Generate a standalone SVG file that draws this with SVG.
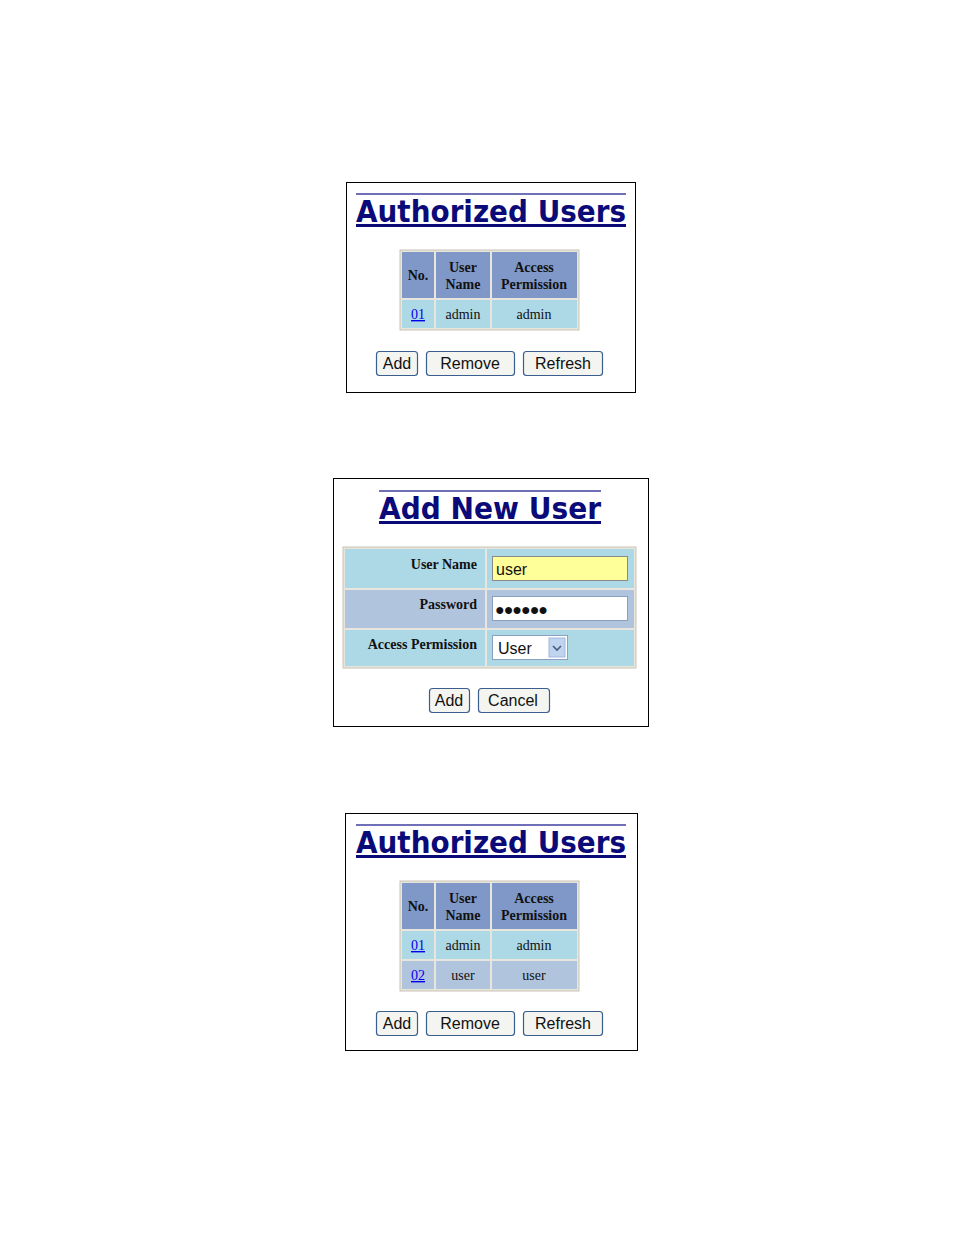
<svg xmlns="http://www.w3.org/2000/svg" width="954" height="1235" viewBox="0 0 954 1235">
<style>
.panel{fill:#fff;stroke:#000;stroke-width:1}
.tl{stroke:#4040a0;stroke-width:1.5}
.title{font-family:"DejaVu Sans",Verdana,sans-serif;font-weight:bold;font-size:30px;fill:#0a0a78;text-decoration:underline}
.tbl{fill:#e8e6dc;stroke:#c8c4b4}
.hd{fill:#7f98c8}
.r1{fill:#add8e6}
.r2{fill:#b0c4de}
.th{font-family:"Liberation Serif",serif;font-weight:bold;font-size:14px;fill:#111;text-anchor:middle}
.td{font-family:"Liberation Serif",serif;font-size:14px;fill:#111;text-anchor:middle}
.lnk{font-family:"Liberation Serif",serif;font-size:14px;fill:#0000ee;text-anchor:middle;text-decoration:underline}
.lb{font-family:"Liberation Serif",serif;font-weight:bold;font-size:14px;fill:#111;text-anchor:end}
.btn{fill:#f4f4f0;stroke:#3a5f8f;stroke-width:1.2}
.bt{font-family:"Liberation Sans",Arial,sans-serif;font-size:16px;fill:#111;text-anchor:middle}
.in{font-family:"Liberation Sans",Arial,sans-serif;font-size:16px;fill:#111}
</style>
<g id="panel1">
<rect class="panel" x="346.5" y="182.5" width="289" height="210"/>
<line class="tl" x1="356" y1="194" x2="626" y2="194"/>
<text class="title" x="356" y="222" textLength="270" lengthAdjust="spacingAndGlyphs">Authorized Users</text>
<rect class="tbl" x="400" y="250" width="179" height="80"/>
<rect class="hd" x="402" y="252" width="32" height="46"/>
<rect class="hd" x="436" y="252" width="54" height="46"/>
<rect class="hd" x="492" y="252" width="85" height="46"/>
<rect class="r1" x="402" y="300" width="32" height="28"/>
<rect class="r1" x="436" y="300" width="54" height="28"/>
<rect class="r1" x="492" y="300" width="85" height="28"/>
<text class="th" x="418" y="280">No.</text>
<text class="th" x="463" y="272">User</text><text class="th" x="463" y="289">Name</text>
<text class="th" x="534" y="272">Access</text><text class="th" x="534" y="289">Permission</text>
<text class="lnk" x="418" y="319">01</text>
<text class="td" x="463" y="319">admin</text>
<text class="td" x="534" y="319">admin</text>
<rect class="btn" x="376.5" y="351.5" width="41" height="24" rx="3"/><text class="bt" x="397" y="369">Add</text>
<rect class="btn" x="426.5" y="351.5" width="88" height="24" rx="3"/><text class="bt" x="470" y="369">Remove</text>
<rect class="btn" x="523.5" y="351.5" width="79" height="24" rx="3"/><text class="bt" x="563" y="369">Refresh</text>
</g>
<g id="panel2">
<rect class="panel" x="333.5" y="478.5" width="315" height="248"/>
<line class="tl" x1="379" y1="491" x2="601" y2="491"/>
<text class="title" x="379" y="519" textLength="222" lengthAdjust="spacingAndGlyphs">Add New User</text>
<rect class="tbl" x="343" y="547" width="293" height="121"/>
<rect class="r1" x="345" y="549" width="140" height="39"/>
<rect class="r1" x="487" y="549" width="147" height="39"/>
<rect class="r2" x="345" y="590" width="140" height="38"/>
<rect class="r2" x="487" y="590" width="147" height="38"/>
<rect class="r1" x="345" y="630" width="140" height="36"/>
<rect class="r1" x="487" y="630" width="147" height="36"/>
<text class="lb" x="477" y="569">User Name</text>
<text class="lb" x="477" y="609">Password</text>
<text class="lb" x="477" y="649">Access Permission</text>
<rect x="492.5" y="556.5" width="135" height="24" fill="#ffff99" stroke="#8a8a8a"/>
<text class="in" x="496" y="575">user</text>
<rect x="492.5" y="596.5" width="135" height="24" fill="#fff" stroke="#8aa0c0"/>
<text class="in" x="495" y="615" font-size="18" letter-spacing="-1">●●●●●●</text>
<rect x="492.5" y="635.5" width="75" height="24" fill="#fff" stroke="#8aa0c0"/>
<text class="in" x="498" y="654">User</text>
<rect x="549" y="638" width="16" height="19" fill="#c0d4f0" stroke="#a0b8e0"/>
<path d="M553 646 L557 650 L561 646" fill="none" stroke="#4a5a80" stroke-width="1.6"/>
<rect class="btn" x="429.5" y="688.5" width="40" height="24" rx="3"/><text class="bt" x="449" y="706">Add</text>
<rect class="btn" x="478.5" y="688.5" width="71" height="24" rx="3"/><text class="bt" x="513" y="706">Cancel</text>
</g>
<g id="panel3">
<rect class="panel" x="345.5" y="813.5" width="292" height="237"/>
<line class="tl" x1="356" y1="825" x2="626" y2="825"/>
<text class="title" x="356" y="853" textLength="270" lengthAdjust="spacingAndGlyphs">Authorized Users</text>
<rect class="tbl" x="400" y="881" width="179" height="110"/>
<rect class="hd" x="402" y="883" width="32" height="46"/>
<rect class="hd" x="436" y="883" width="54" height="46"/>
<rect class="hd" x="492" y="883" width="85" height="46"/>
<rect class="r1" x="402" y="931" width="32" height="28"/>
<rect class="r1" x="436" y="931" width="54" height="28"/>
<rect class="r1" x="492" y="931" width="85" height="28"/>
<rect class="r2" x="402" y="961" width="32" height="28"/>
<rect class="r2" x="436" y="961" width="54" height="28"/>
<rect class="r2" x="492" y="961" width="85" height="28"/>
<text class="th" x="418" y="911">No.</text>
<text class="th" x="463" y="903">User</text><text class="th" x="463" y="920">Name</text>
<text class="th" x="534" y="903">Access</text><text class="th" x="534" y="920">Permission</text>
<text class="lnk" x="418" y="950">01</text>
<text class="td" x="463" y="950">admin</text>
<text class="td" x="534" y="950">admin</text>
<text class="lnk" x="418" y="980">02</text>
<text class="td" x="463" y="980">user</text>
<text class="td" x="534" y="980">user</text>
<rect class="btn" x="376.5" y="1011.5" width="41" height="24" rx="3"/><text class="bt" x="397" y="1029">Add</text>
<rect class="btn" x="426.5" y="1011.5" width="88" height="24" rx="3"/><text class="bt" x="470" y="1029">Remove</text>
<rect class="btn" x="523.5" y="1011.5" width="79" height="24" rx="3"/><text class="bt" x="563" y="1029">Refresh</text>
</g>
<g id="connectors"/>
</svg>
